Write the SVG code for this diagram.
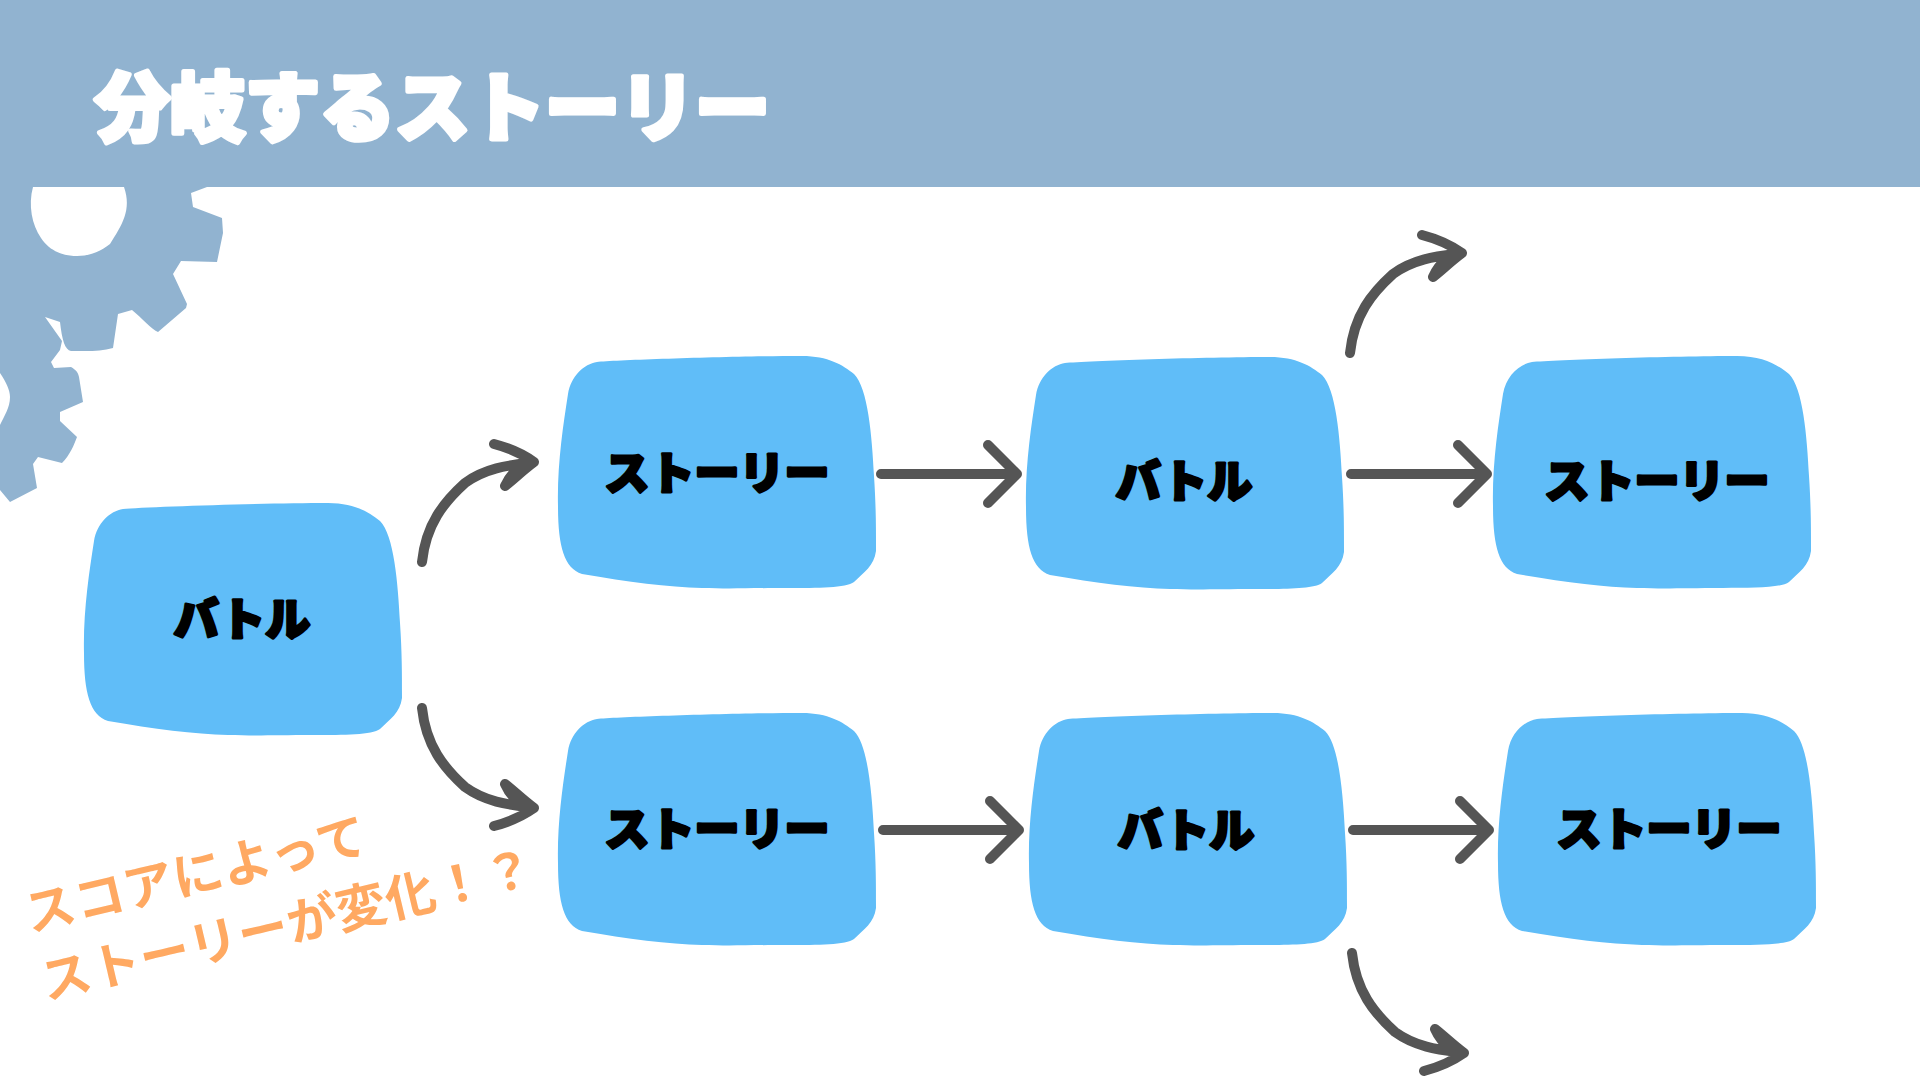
<svg xmlns="http://www.w3.org/2000/svg" xmlns:xlink="http://www.w3.org/1999/xlink" width="1920" height="1080" viewBox="0 0 1920 1080">
<style>
.jp{font-family:"Noto Sans CJK JP","Noto Sans",sans-serif}
.blob{fill:#60BDF8}
.lbl{font-size:45px;font-weight:900;fill:#000;stroke:#000;stroke-width:3px;stroke-linejoin:round;text-anchor:middle}
.title{font-size:75px;font-weight:900;fill:#fff;stroke:#fff;stroke-width:5px;stroke-linejoin:round}
.note{font-size:50px;font-weight:700;fill:#FFA962;letter-spacing:0.5px}
.ar{fill:none;stroke:#555;stroke-width:10;stroke-linecap:round;stroke-linejoin:round}
</style>
<defs>
<path id="b" class="blob" d="M10 38C13 20 26 8 39 6C60 4 180 0 244 0C270 0 285 9 296 18C310 32 314 80 316 120C318 150 318 170 318 195C316 210 306 216 296 226C288 232 260 232 230 232C190 232 175 233 144 232C110 231 70 226 24 218C6 212 0 190 0 150C-1 110 5 70 10 38Z"/>
<g id="straight" class="ar"><path d="M0 0H136M107 -29L136 0L107 29"/></g>
<g id="curve" class="ar"><path d="M1350 353C1354 315 1372 293 1393 274C1415 258 1440 256 1462 253M1422 235Q1445 241 1462 253C1450 262 1442 270 1433 277C1436 270 1442 262 1450 256"/></g>
</defs>
<g id="background">
<rect width="1920" height="1080" fill="#fff"/>
<path fill="#91B3D0" d="M0 0H1920V187H207L191 193L193 207L222 218L223 233L217 262L181 261L173 274L187 304L186 308L158 332C152 330 142 318 132 310L118 314L113 348C100 352 85 351 71 351C65 350 62 340 60 322L45 317L62 341L60 350L51 362L54 368L71 367C76 370 78 372 79 377L83 402L60 412L60 421L77 437C74 445 70 455 62 463L38 457L33 464L37 488L10 502L0 490Z"/>
<path fill="#fff" d="M33 187C28 205 32 225 41 238C50 252 65 256 77 256C92 256 102 250 110 244C122 225 132 210 124 187Z"/>
<path fill="#fff" d="M0 373C6 382 10 390 10 397C10 408 4 416 0 425Z"/>
</g>
<g id="title"><text class="jp title" x="95" y="135">分岐するストーリー</text></g>
<g id="connectors">
<use xlink:href="#straight" href="#straight" x="881" y="474"/>
<use xlink:href="#straight" href="#straight" x="1351" y="474"/>
<use xlink:href="#straight" href="#straight" x="883" y="830"/>
<use xlink:href="#straight" href="#straight" x="1353" y="830"/>
<use xlink:href="#curve" href="#curve"/>
<use xlink:href="#curve" href="#curve" x="-928" y="209"/>
<use xlink:href="#curve" href="#curve" transform="translate(-928 1061) scale(1 -1)"/>
<use xlink:href="#curve" href="#curve" transform="translate(2 1306) scale(1 -1)"/>
</g>
<g id="node-a"><use xlink:href="#b" href="#b" x="84" y="503"/><text class="jp lbl" x="242" y="636">バトル</text></g>
<g id="node-b"><use xlink:href="#b" href="#b" x="558" y="356"/><text class="jp lbl" x="717" y="490">ストーリー</text></g>
<g id="node-c"><use xlink:href="#b" href="#b" x="1026" y="357"/><text class="jp lbl" x="1184" y="498">バトル</text></g>
<g id="node-d"><use xlink:href="#b" href="#b" x="1493" y="356"/><text class="jp lbl" x="1657" y="498">ストーリー</text></g>
<g id="node-e"><use xlink:href="#b" href="#b" x="558" y="713"/><text class="jp lbl" x="717" y="846">ストーリー</text></g>
<g id="node-f"><use xlink:href="#b" href="#b" x="1029" y="713"/><text class="jp lbl" x="1186" y="847">バトル</text></g>
<g id="node-g"><use xlink:href="#b" href="#b" x="1498" y="713"/><text class="jp lbl" x="1669" y="846">ストーリー</text></g>
<g id="note">
<text class="jp note" transform="translate(30 932) rotate(-13.3)">スコアによって</text>
<text class="jp note" transform="translate(46 1000) rotate(-13.3)">ストーリーが変化！？</text>
</g>
</svg>
